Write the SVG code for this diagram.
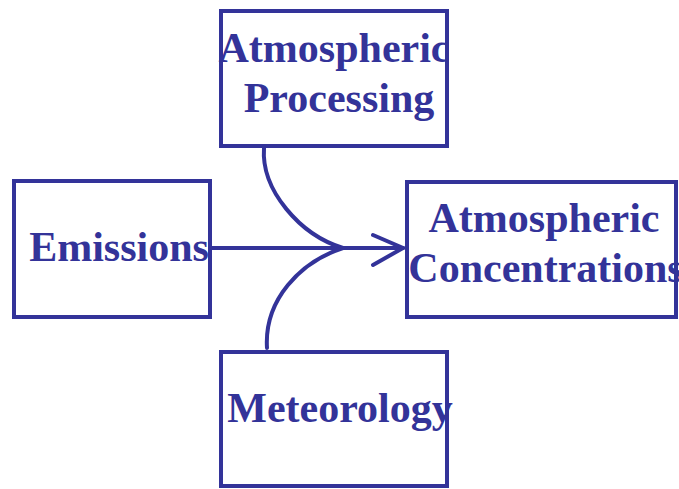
<svg xmlns="http://www.w3.org/2000/svg" width="679" height="489" viewBox="0 0 679 489">
<style>
.box{fill:#fff;stroke:#333399;stroke-width:4}
.t{font-family:"Liberation Serif","Times New Roman",serif;font-weight:bold;font-size:42px;fill:#333399;text-anchor:middle}
.c{fill:none;stroke:#333399;stroke-width:4;stroke-linecap:round}
</style>
<rect width="679" height="489" fill="#fff"/>
<g id="connectors">
<path class="c" d="M210,248 H403"/>
<path class="c" d="M373,235 L403,248 L373,265"/>
<path class="c" d="M264,148 C261,190 300,235 343,248"/>
<path class="c" d="M267,348 C264,300 300,262 343,248"/>
</g>
<g id="processing">
<rect class="box" x="221" y="11" width="226" height="135"/>
<text class="t" x="334" y="62">Atmospheric</text>
<text class="t" x="339" y="112">Processing</text>
</g>
<g id="emissions">
<rect class="box" x="14" y="181" width="196" height="136"/>
<text class="t" x="119" y="261">Emissions</text>
</g>
<g id="concentrations">
<rect class="box" x="407" y="182" width="269" height="135"/>
<text class="t" x="544" y="232">Atmospheric</text>
<text class="t" x="546" y="282">Concentrations</text>
</g>
<g id="meteorology">
<rect class="box" x="221" y="352" width="226" height="134"/>
<text class="t" x="340" y="422">Meteorology</text>
</g>
</svg>
